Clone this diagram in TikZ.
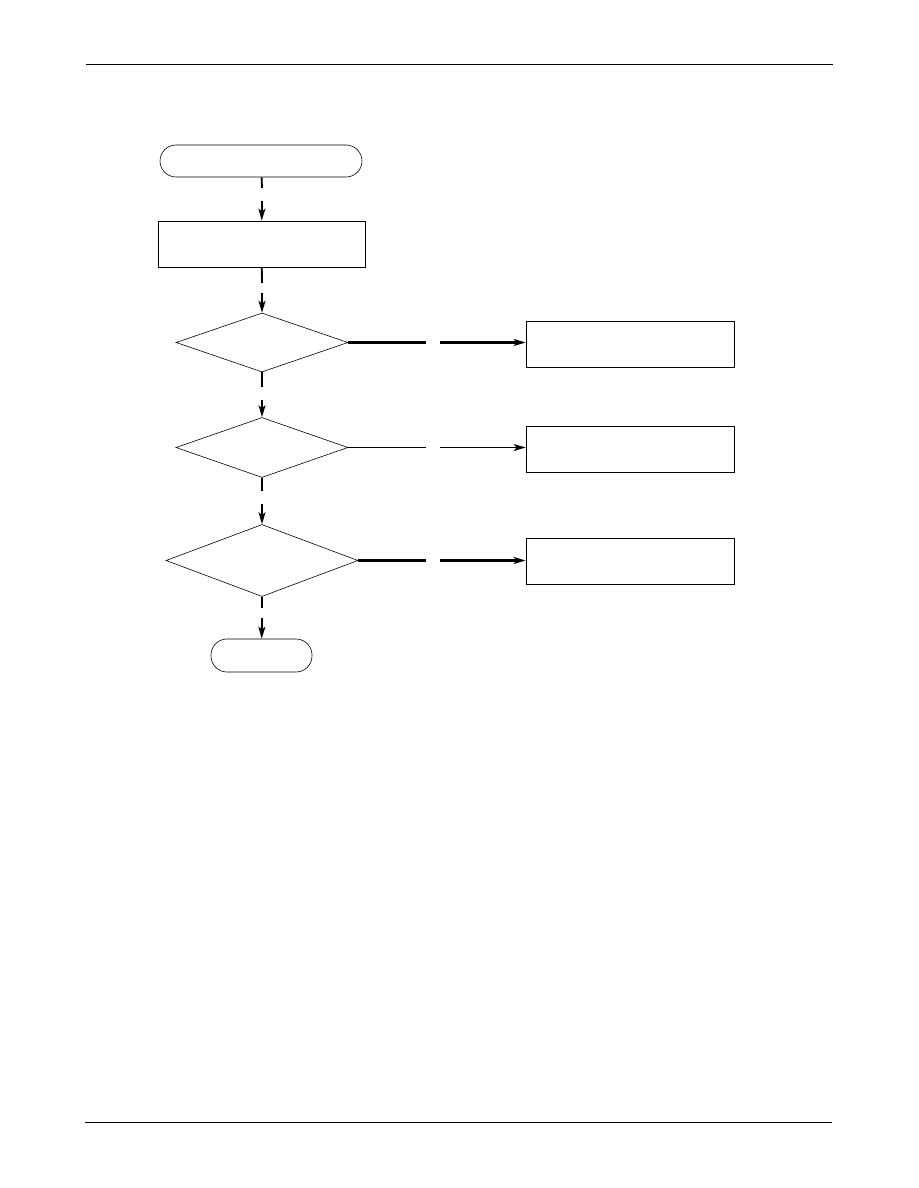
\documentclass[tikz,border=0pt]{standalone}
\usetikzlibrary{shapes.geometric,arrows.meta}
\begin{document}
\begin{tikzpicture}[x=1pt, y=-1pt, >={Stealth[length=12pt,width=7pt,inset=3pt]},
  term/.style={draw, line width=0.6pt, rounded corners=16pt, inner sep=0pt},
  procbox/.style={draw, line width=0.8pt, inner sep=0pt, minimum width=207pt, minimum height=46pt},
  decide/.style={draw, diamond, line width=0.6pt, inner sep=0pt},
  flow/.style={line width=1.8pt},
  side/.style={line width=2.3pt},
  sidethin/.style={line width=1pt}]
\useasboundingbox (0,0) rectangle (918,1188);
% rules at top and bottom of the page
\draw[line width=0.9pt] (86,64) -- (833,64);
\draw[line width=0.9pt] (85,1122) -- (832,1122);
% main column
\node[term, minimum width=202pt, minimum height=32pt] (start) at (261,161) {};
\node[procbox] (init) at (261.5,244) {};
\node[decide, minimum width=172pt, minimum height=59pt] (chkA) at (262,342.5) {};
\node[decide, minimum width=172pt, minimum height=60pt] (chkB) at (262,447.5) {};
\node[decide, minimum width=192pt, minimum height=72pt] (chkC) at (262,560.5) {};
\node[term, minimum width=101pt, minimum height=33pt] (stop) at (261.5,655.5) {};
% boxes on the right
\node[procbox, minimum width=208pt] (actA) at (630,344.5) {};
\node[procbox, minimum width=208pt] (actB) at (630,449.5) {};
\node[procbox, minimum width=208pt] (actC) at (630,561) {};
% gaps in the connectors
\coordinate (g1a) at (262,188); \coordinate (g1b) at (262,201);
\coordinate (g2a) at (262,283); \coordinate (g2b) at (262,293);
\coordinate (g3a) at (262,387); \coordinate (g3b) at (262,400);
\coordinate (g4a) at (262,491); \coordinate (g4b) at (262,504);
\coordinate (g5a) at (262,608); \coordinate (g5b) at (262,618);
\coordinate (hAa) at (426,342.5); \coordinate (hAb) at (440,342.5);
\coordinate (hBa) at (426,447.5); \coordinate (hBb) at (440,447.5);
\coordinate (hCa) at (426,560.5); \coordinate (hCb) at (440,560.5);
% vertical connectors
\draw[flow] (start) -- (g1a); \draw[flow,->] (g1b) -- (init);
\draw[flow] (init) -- (g2a); \draw[flow,->] (g2b) -- (chkA);
\draw[flow] (chkA) -- (g3a); \draw[flow,->] (g3b) -- (chkB);
\draw[flow] (chkB) -- (g4a); \draw[flow,->] (g4b) -- (chkC);
\draw[flow] (chkC) -- (g5a); \draw[flow,->] (g5b) -- (stop);
% horizontal connectors
\draw[side] (chkA.east) -- (hAa); \draw[side,->] (hAb) -- (actA.west |- hAb);
\draw[sidethin] (chkB.east) -- (hBa); \draw[sidethin,->] (hBb) -- (actB.west |- hBb);
\draw[side] (chkC.east) -- (hCa); \draw[side,->] (hCb) -- (actC.west |- hCb);
\end{tikzpicture}
\end{document}
